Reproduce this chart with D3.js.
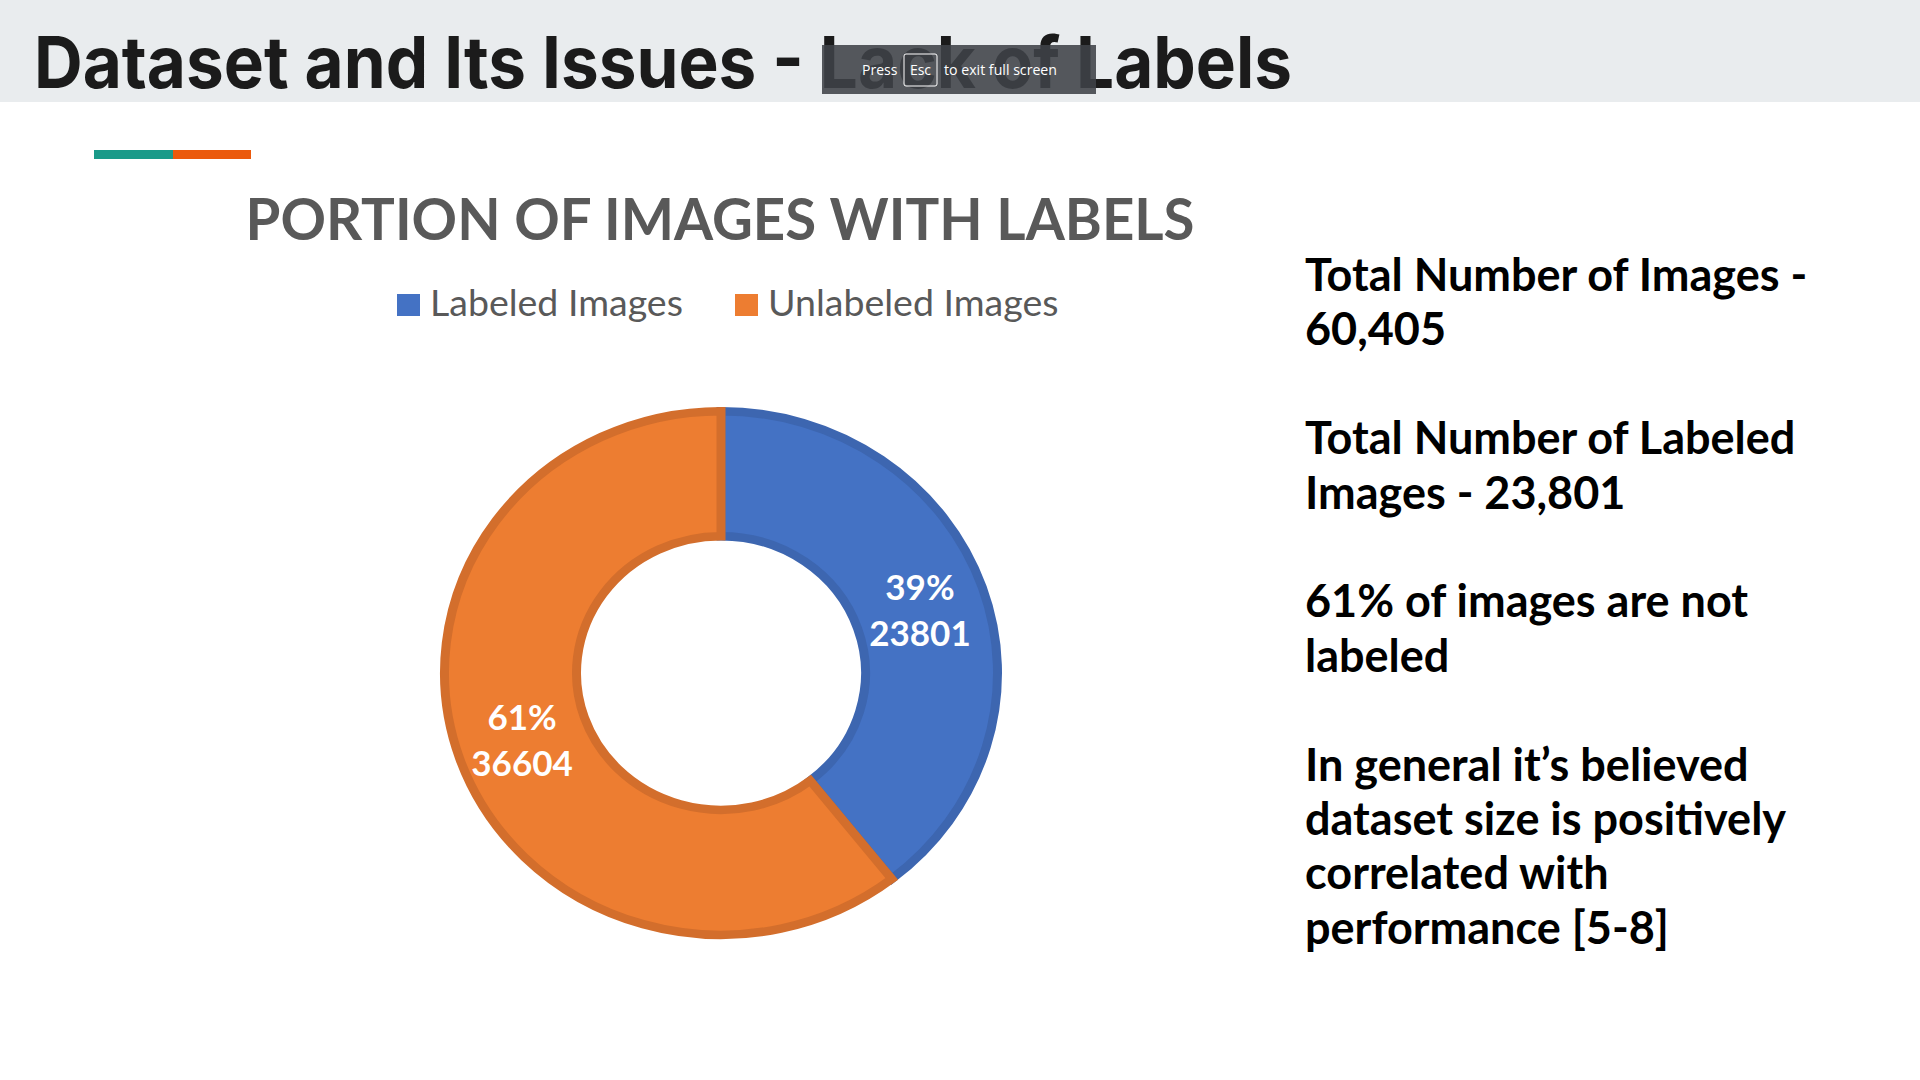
<!DOCTYPE html>
<html>
<head>
<meta charset="utf-8">
<script src="https://cdn.jsdelivr.net/npm/d3@7"></script>
<style>
  body { margin: 0; background: #fff; }
  svg { display: block; }
</style>
</head>
<body>
<div id="slide"></div>
<script>
// chart data
var categories = ["Labeled Images", "Unlabeled Images"];
var counts = [23801, 36604];
var fills = ["#4472c4", "#ed7d31"];
var borders = ["#3d66b0", "#d36e2c"];

// side notes, one array per paragraph (line breaks as in the slide)
var note1 = ["Total Number of Images -", "60,405"];
var note2 = ["Total Number of Labeled", "Images - 23,801"];
var note3 = ["61% of images are not", "labeled"];
var note4 = ["In general it\u2019s believed", "dataset size is positively", "correlated with", "performance [5-8]"];

var W = 1920, H = 1080;

var svg = d3.select("#slide").append("svg")
  .attr("width", W)
  .attr("height", H);

//header band + title
svg.append("rect")
  .attr("width", W)
  .attr("height", 102)
  .attr("fill", "#e9ecee");

svg.append("text")
  .attr("x", 34)
  .attr("y", 88)
  .attr("textLength", 1258)
  .attr("lengthAdjust", "spacingAndGlyphs")
  .style("font-family", "Inter, 'Open Sans', sans-serif")
  .style("font-weight", 700)
  .style("font-size", "72px")
  .attr("fill", "#1b1b1b")
  .text("Dataset and Its Issues - Lack of Labels");

//accent bar under header
svg.append("rect").attr("x", 94).attr("y", 150).attr("width", 79).attr("height", 9).attr("fill", "#1a9a89");
svg.append("rect").attr("x", 173).attr("y", 150).attr("width", 78).attr("height", 9).attr("fill", "#eb5a0c");

//chart title
svg.append("text")
  .attr("x", 720)
  .attr("y", 240)
  .attr("text-anchor", "middle")
  .attr("textLength", 949)
  .attr("lengthAdjust", "spacingAndGlyphs")
  .style("font-family", "Lato, sans-serif")
  .style("font-weight", 700)
  .style("font-size", "58px")
  .attr("fill", "#595959")
  .text("PORTION OF IMAGES WITH LABELS");

//legend
var legendX = [397, 735];
var legend = svg.append("g")
  .selectAll("g")
  .data(categories)
  .enter()
  .append("g")
    .attr("transform", function(d, i) { return "translate(" + legendX[i] + ",294)"; });

legend.append("rect")
  .attr("width", 23)
  .attr("height", 22)
  .attr("fill", function(d, i) { return fills[i]; });

legend.append("text")
  .attr("x", 33)
  .attr("y", 22)
  .style("font-family", "Lato, sans-serif")
  .style("font-size", "37.5px")
  .attr("fill", "#595959")
  .text(function(d) { return d; });

//donut (the picture is a little squashed vertically)
var cx = 721, cy = 673, squash = 0.947;
var pie = d3.pie().sort(null).value(function(d) { return d; });
var arcs = pie(counts);
var arc = d3.arc().innerRadius(144.5).outerRadius(276.5);
var total = d3.sum(counts);
var pct = d3.format(".0%");

var donut = svg.append("g")
  .attr("transform", "translate(" + cx + "," + cy + ") scale(1," + squash + ")");

donut.selectAll("path")
  .data(arcs)
  .enter()
  .append("path")
    .attr("d", arc)
    .attr("fill", function(d, i) { return fills[i]; })
    .attr("stroke", function(d, i) { return borders[i]; })
    .attr("stroke-width", 9)
    .attr("stroke-linejoin", "miter");

//data labels at the centre of each ring slice
var labels = svg.append("g")
  .selectAll("text")
  .data(arcs)
  .enter()
  .append("text")
    .attr("transform", function(d) {
      var c = arc.centroid(d);
      return "translate(" + (cx + c[0]) + "," + (cy + c[1] * squash) + ")";
    })
    .attr("text-anchor", "middle")
    .style("font-family", "Lato, sans-serif")
    .style("font-weight", 700)
    .style("font-size", "35px")
    .attr("fill", "#ffffff");

labels.append("tspan")
  .attr("x", 0)
  .attr("y", -8)
  .text(function(d) { return pct(d.value / total); });

labels.append("tspan")
  .attr("x", 0)
  .attr("y", 38)
  .text(function(d) { return d.value; });

//notes on the right
var notes = [note1, note2, note3, note4];
var lineH = 54.4;
var row = 0;
var notesG = svg.append("g").attr("transform", "translate(1305,291)");
notes.forEach(function(p) {
  p.forEach(function(line) {
    notesG.append("text")
      .attr("x", 0)
      .attr("y", row * lineH)
      .style("font-family", "Lato, sans-serif")
      .style("font-weight", 700)
      .style("font-size", "45px")
      .attr("fill", "#000")
      .text(line);
    row++;
  });
  row++;
});

//"press esc" overlay from the screenshot
var esc = svg.append("g");
esc.append("rect")
  .attr("x", 822).attr("y", 45)
  .attr("width", 274).attr("height", 49)
  .attr("fill", "#3f4248")
  .attr("opacity", 0.88);
esc.append("text")
  .attr("x", 862).attr("y", 75)
  .style("font-family", "'Open Sans', sans-serif")
  .style("font-size", "14px")
  .attr("fill", "#fff")
  .text("Press");
esc.append("rect")
  .attr("x", 904).attr("y", 54)
  .attr("width", 33).attr("height", 32)
  .attr("fill", "none")
  .attr("stroke", "#fff")
  .attr("stroke-width", 1)
  .attr("rx", 2);
esc.append("text")
  .attr("x", 920.5).attr("y", 75)
  .attr("text-anchor", "middle")
  .style("font-family", "'Open Sans', sans-serif")
  .style("font-size", "14px")
  .attr("fill", "#fff")
  .text("Esc");
esc.append("text")
  .attr("x", 944).attr("y", 75)
  .attr("textLength", 113)
  .attr("lengthAdjust", "spacingAndGlyphs")
  .style("font-family", "'Open Sans', sans-serif")
  .style("font-size", "14px")
  .attr("fill", "#fff")
  .text("to exit full screen");
</script>
</body>
</html>
